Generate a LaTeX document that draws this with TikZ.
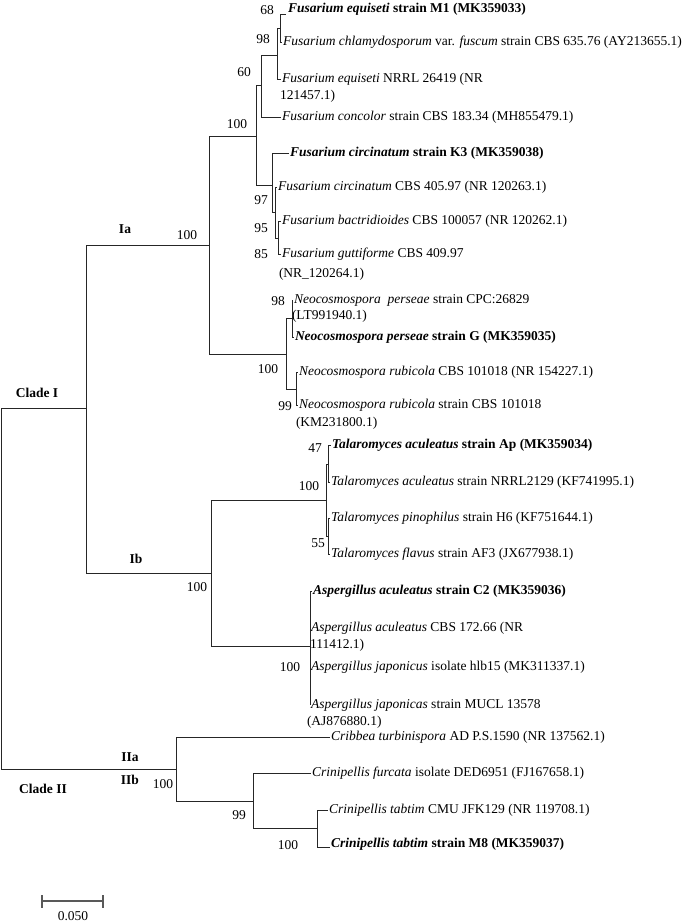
\documentclass[tikz,border=0pt]{standalone}
\usepackage{fontspec}
\setmainfont{Liberation Serif}
\begin{document}
\begin{tikzpicture}[x=1pt,y=-1pt,
  font=\fontsize{13.5}{16}\selectfont,
  leaf/.style={anchor=west, inner sep=1pt, outer sep=0pt},
  bs/.style={inner sep=0pt, anchor=center},
  clade/.style={inner sep=0pt, anchor=center, font=\fontsize{13.5}{16}\selectfont\bfseries},
  br/.style={line width=0.9pt, draw=black!85},
  sbar/.style={line width=1.2pt, draw=black!65}]
\useasboundingbox (0,0) rectangle (685,922);

% internal nodes
\coordinate (r) at (1,588.5);
\coordinate (cI) at (86,408);
\coordinate (cII) at (176,769);
\coordinate (Ia) at (209,245);
\coordinate (Ib) at (211,573);
\coordinate (fus) at (256,136);
\coordinate (neo) at (286,354);
\coordinate (eq) at (261,85);
\coordinate (circ) at (272,185);
\coordinate (n98a) at (277,55);
\coordinate (n68) at (280,28);
\coordinate (n97) at (275,212);
\coordinate (n95) at (278,238);
\coordinate (n98b) at (292,318);
\coordinate (rub) at (296,389);
\coordinate (tal) at (326,500);
\coordinate (n47) at (328,464);
\coordinate (n55) at (328,536);
\coordinate (asp) at (310,646);
\coordinate (n99) at (253,801);
\coordinate (n100t) at (317,828);
\coordinate (e1) at (286,14);
\coordinate (e24) at (330,847);

% leaves
\node[leaf] (t1) at (287,9) {\textbf{\textit{Fusarium equiseti} strain M1 (MK359033)}};
\node[leaf] (t2) at (282,42) {\textit{Fusarium chlamydosporum} var. \textit{fuscum} strain CBS 635.76 (AY213655.1)};
\node[leaf] (t3) at (281,79) {\textit{Fusarium equiseti} NRRL 26419 (NR};
\node[leaf] (t3b) at (279,96) {121457.1)};
\node[leaf] (t4) at (281,117) {\textit{Fusarium concolor} strain CBS 183.34 (MH855479.1)};
\node[leaf] (t5) at (289,153) {\textbf{\textit{Fusarium circinatum} strain K3 (MK359038)}};
\node[leaf] (t6) at (277,187) {\textit{Fusarium circinatum} CBS 405.97 (NR 120263.1)};
\node[leaf] (t7) at (281,221) {\textit{Fusarium bactridioides} CBS 100057 (NR 120262.1)};
\node[leaf] (t8) at (281,254) {\textit{Fusarium guttiforme} CBS 409.97};
\node[leaf] (t8b) at (278,274) {(NR\_120264.1)};
\node[leaf] (t9) at (293,300) {\textit{Neocosmospora\ \ perseae} strain CPC:26829};
\node[leaf] (t9b) at (291,316) {(LT991940.1)};
\node[leaf] (t10) at (294,337) {\textbf{\textit{Neocosmospora perseae} strain G (MK359035)}};
\node[leaf] (t11) at (298,372) {\textit{Neocosmospora rubicola} CBS 101018 (NR 154227.1)};
\node[leaf] (t12) at (298,405) {\textit{Neocosmospora rubicola} strain CBS 101018};
\node[leaf] (t12b) at (295,423) {(KM231800.1)};
\node[leaf] (t13) at (331,445) {\textbf{\textit{Talaromyces aculeatus} strain Ap (MK359034)}};
\node[leaf] (t14) at (330,482) {\textit{Talaromyces aculeatus} strain NRRL2129 (KF741995.1)};
\node[leaf] (t15) at (330,518) {\textit{Talaromyces pinophilus} strain H6 (KF751644.1)};
\node[leaf] (t16) at (330,554) {\textit{Talaromyces flavus} strain AF3 (JX677938.1)};
\node[leaf] (t17) at (312,591) {\textbf{\textit{Aspergillus aculeatus} strain C2 (MK359036)}};
\node[leaf] (t18) at (310,628) {\textit{Aspergillus aculeatus} CBS 172.66 (NR};
\node[leaf] (t18b) at (309,645) {111412.1)};
\node[leaf] (t19) at (310,667) {\textit{Aspergillus japonicus} isolate hlb15 (MK311337.1)};
\node[leaf] (t20) at (310,705) {\textit{Aspergillus japonicas} strain MUCL 13578};
\node[leaf] (t20b) at (306,722) {(AJ876880.1)};
\node[leaf] (t21) at (330,737) {\textit{Cribbea turbinispora} AD P.S.1590 (NR 137562.1)};
\node[leaf] (t22) at (311,773) {\textit{Crinipellis furcata} isolate DED6951 (FJ167658.1)};
\node[leaf] (t23) at (328,810) {\textit{Crinipellis tabtim} CMU JFK129 (NR 119708.1)};
\node[leaf] (t24) at (330,844) {\textbf{\textit{Crinipellis tabtim} strain M8 (MK359037)}};

% branches
\draw[br] (r) |- (cI);  \draw[br] (r) |- (cII);
\draw[br] (cI) |- (Ia); \draw[br] (cI) |- (Ib);
\draw[br] (Ia) |- (fus); \draw[br] (Ia) |- (neo);
\draw[br] (fus) |- (eq); \draw[br] (fus) |- (circ);
\draw[br] (eq) |- (n98a); \draw[br] (eq) |- (t4.west);
\draw[br] (n98a) |- (n68); \draw[br] (n98a) |- (t3.west);
\draw[br] (n68) |- (e1); \draw[br] (n68) |- (t2.west);
\draw[br] (circ) |- (t5.west); \draw[br] (circ) |- (n97);
\draw[br] (n97) |- (t6.west); \draw[br] (n97) |- (n95);
\draw[br] (n95) |- (t7.west); \draw[br] (n95) |- (t8.west);
\draw[br] (neo) |- (n98b); \draw[br] (neo) |- (rub);
\draw[br] (n98b) |- (t9.west); \draw[br] (n98b) |- (t10.west);
\draw[br] (rub) |- (t11.west); \draw[br] (rub) |- (t12.west);
\draw[br] (Ib) |- (tal); \draw[br] (Ib) |- (asp);
\draw[br] (tal) |- (n47); \draw[br] (tal) |- (n55);
\draw[br] (n47) |- (t13.west); \draw[br] (n47) |- (t14.west);
\draw[br] (n55) |- (t15.west); \draw[br] (n55) |- (t16.west);
\draw[br] (asp) |- (t17.west); \draw[br] (asp) |- (t18.west);
\draw[br] (asp) |- (t19.west); \draw[br] (asp) |- (t20.west);
\draw[br] (cII) |- (t21.west); \draw[br] (cII) |- (n99);
\draw[br] (n99) |- (t22.west); \draw[br] (n99) |- (n100t);
\draw[br] (n100t) |- (t23.west); \draw[br] (n100t) |- (e24);

% bootstrap values
\node[bs] (b68) at (267,10) {68};
\node[bs] (b98a) at (263,39) {98};
\node[bs] (b60) at (244,72) {60};
\node[bs] (b100f) at (237,124) {100};
\node[bs] (b97) at (261,200) {97};
\node[bs] (b95) at (261,228) {95};
\node[bs] (b85) at (261,254) {85};
\node[bs] (b98b) at (278,301) {98};
\node[bs] (b100n) at (268,369) {100};
\node[bs] (b99n) at (285,406) {99};
\node[bs] (b100Ia) at (187,235) {100};
\node[bs] (b47) at (315,448) {47};
\node[bs] (b100t) at (309,486) {100};
\node[bs] (b55) at (318,543) {55};
\node[bs] (b100Ib) at (197,587) {100};
\node[bs] (b100a) at (290,667) {100};
\node[bs] (b100II) at (163,784) {100};
\node[bs] (b99c) at (239,815) {99};
\node[bs] (b100c) at (288,845) {100};

% clade labels
\node[clade] (lcI) at (37,393) {Clade I};
\node[clade] (lIa) at (125,229) {Ia};
\node[clade] (lIb) at (136,559) {Ib};
\node[clade] (lIIa) at (130,757) {IIa};
\node[clade] (lIIb) at (130,780) {IIb};
\node[clade] (lcII) at (43,789) {Clade II};

% scale bar
\coordinate (s1) at (42,901);
\coordinate (s2) at (103,901);
\draw[sbar] (s1) -- (s2);
\draw[sbar] ([yshift=-6.5pt]s1) -- ([yshift=6.5pt]s1);
\draw[sbar] ([yshift=-6.5pt]s2) -- ([yshift=6.5pt]s2);
\node[bs] (sl) at (73,916) {0.050};
\end{tikzpicture}
\end{document}
